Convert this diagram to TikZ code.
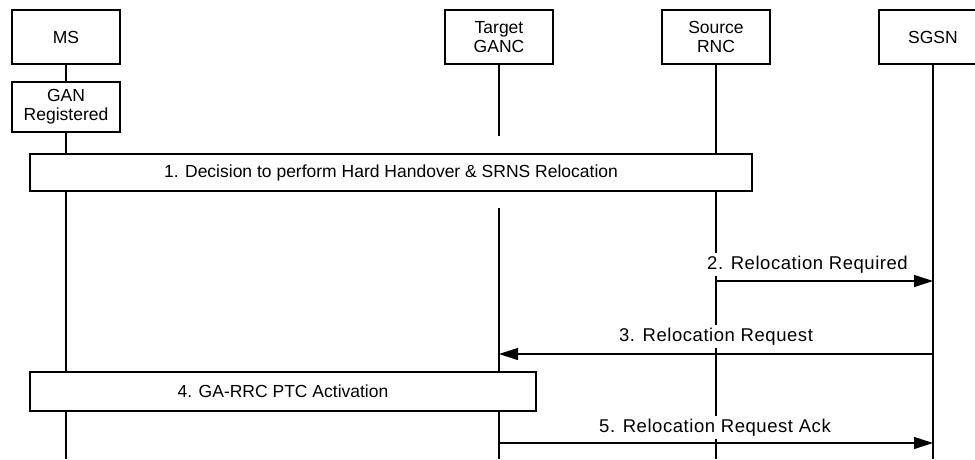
\documentclass[tikz,border=0pt]{standalone}
\usepackage{fontspec}
\setmainfont{Liberation Sans}
\usetikzlibrary{arrows.meta}
\pgfdeclarelayer{bg}
\pgfsetlayers{bg,main}
\begin{document}
\begin{tikzpicture}[x=1pt,y=-1pt,
  boxfont/.style={font=\fontsize{17.5}{19}\selectfont},
  ent/.style={boxfont,draw,fill=white,line width=1.1pt,minimum width=108pt,minimum height=54pt,align=center,inner sep=0pt},
  bar/.style={boxfont,draw,fill=white,line width=1.1pt,inner sep=0pt},
  life/.style={line width=1.1pt},
  msg/.style={line width=1.1pt,-{Triangle[length=19pt,width=12pt]}},
  lbl/.style={font=\fontsize{18.5}{20}\selectfont\addfontfeature{LetterSpace=3},fill=white,inner xsep=1pt,inner ysep=3pt,text height=13pt,text depth=4pt,anchor=base}]
\useasboundingbox (0,0) rectangle (975,459);
% entities
\node[ent] (ms) at (66,37) {MS};
\node[ent] (tg) at (499,37) {Target\\GANC};
\node[ent] (src) at (716,37) {Source\\RNC};
\node[ent] (sgsn) at (933,37) {SGSN};
\node[ent,minimum height=50pt] (gan) at (66,107) {GAN\\Registered};
% bars
\node[bar,minimum width=722pt,minimum height=37pt] (b1) at (391,172.5) {1. Decision to perform Hard Handover \& SRNS Relocation};
\node[bar,minimum width=506pt,minimum height=39pt] (b4) at (283,391.5) {4. GA-RRC PTC Activation};
% lifeline coordinates
\coordinate (msEnd) at (66,459);
\coordinate (tgStop) at (499,136);
\coordinate (tgRes) at (499,208);
\coordinate (tgEnd) at (499,459);
\coordinate (srcEnd) at (716,459);
\coordinate (sgsnEnd) at (933,459);
\begin{pgfonlayer}{bg}
\draw[life] (ms.south) -- (msEnd);
\draw[life] (tg.south) -- (tgStop);
\draw[life] (tgRes) -- (tgEnd);
\draw[life] (src.south) -- (srcEnd);
\draw[life] (sgsn.south) -- (sgsnEnd);
\end{pgfonlayer}
% messages
\coordinate (m2s) at (716,281);
\coordinate (m2e) at (933,281);
\coordinate (m3s) at (933,354);
\coordinate (m3e) at (499,354);
\coordinate (m5s) at (499,443);
\coordinate (m5e) at (933,443);
\draw[msg] (m2s) -- (m2e);
\draw[msg] (m3s) -- (m3e);
\draw[msg] (m5s) -- (m5e);
\node[lbl] (l2) at (807.5,269) {2. Relocation Required};
\node[lbl] (l3) at (716,341) {3. Relocation Request};
\node[lbl] (l5) at (715,432) {5. Relocation Request Ack};
\end{tikzpicture}
\end{document}
